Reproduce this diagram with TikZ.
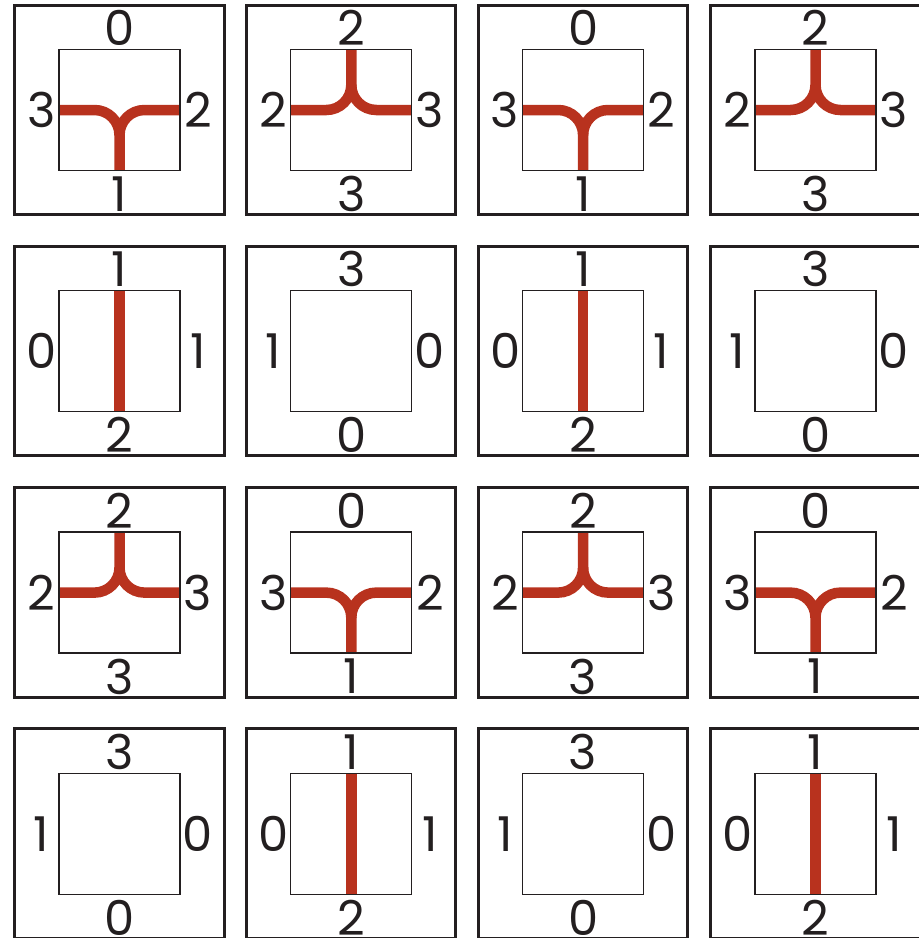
\documentclass[tikz,border=0pt]{standalone}
\usepackage{fontspec}
\setmainfont{Poppins}
\definecolor{ink}{HTML}{231F20}
\definecolor{pipe}{RGB}{184,50,30}
\tikzset{
  x=1pt,y=1pt,
  outerbox/.style={draw=ink,line width=3pt},
  innerbox/.style={draw=ink,line width=1.3pt},
  pipeline/.style={draw=pipe,line width=10.5pt,line cap=butt},
  lbl/.style={inner sep=0pt,text=ink,font=\fontsize{48}{48}\selectfont},
  pics/tile/.style n args={4}{code={
    \draw[outerbox] (0,0) rectangle (209.5,-209.5);
    \draw[innerbox] (44.5,-44.5) rectangle (165.5,-165.5);
    \node[lbl] (top) at (105,-23) {#1};
    \node[lbl] (left) at (27,-105) {#2};
    \node[lbl] (right) at (183.5,-105) {#3};
    \node[lbl] (bottom) at (105,-189) {#4};
  }},
  pics/pipedown/.style={code={
    \draw[pipeline] (44.5,-105) -- (80,-105) arc[start angle=90,end angle=0,radius=25] -- (105,-165.5);
    \draw[pipeline] (165.5,-105) -- (130,-105) arc[start angle=90,end angle=180,radius=25];
  }},
  pics/pipeup/.style={code={
    \draw[pipeline] (44.5,-105) -- (80,-105) arc[start angle=-90,end angle=0,radius=25] -- (105,-44.5);
    \draw[pipeline] (165.5,-105) -- (130,-105) arc[start angle=-90,end angle=-180,radius=25];
  }},
  pics/pipevert/.style={code={
    \draw[pipeline] (105,-44.5) -- (105,-165.5);
  }}
}
\begin{document}
\begin{tikzpicture}
\useasboundingbox (0,0) rectangle (919,-938);
\clip (0,0) rectangle (919,-938);
% row 1
\pic at (14.5,-5) {pipedown};
\pic (t11) at (14.5,-5) {tile={0}{3}{2}{1}};
\pic at (246.3,-5) {pipeup};
\pic (t12) at (246.3,-5) {tile={2}{2}{3}{3}};
\pic at (478.1,-5) {pipedown};
\pic (t13) at (478.1,-5) {tile={0}{3}{2}{1}};
\pic at (710.5,-5) {pipeup};
\pic (t14) at (710.5,-5) {tile={2}{2}{3}{3}};
% row 2
\pic at (14.5,-246.3) {pipevert};
\pic (t21) at (14.5,-246.3) {tile={1}{0}{1}{2}};
\pic (t22) at (246.3,-246.3) {tile={3}{1}{0}{0}};
\pic at (478.1,-246.3) {pipevert};
\pic (t23) at (478.1,-246.3) {tile={1}{0}{1}{2}};
\pic (t24) at (710.5,-246.3) {tile={3}{1}{0}{0}};
% row 3
\pic at (14.5,-487.6) {pipeup};
\pic (t31) at (14.5,-487.6) {tile={2}{2}{3}{3}};
\pic at (246.3,-487.6) {pipedown};
\pic (t32) at (246.3,-487.6) {tile={0}{3}{2}{1}};
\pic at (478.1,-487.6) {pipeup};
\pic (t33) at (478.1,-487.6) {tile={2}{2}{3}{3}};
\pic at (710.5,-487.6) {pipedown};
\pic (t34) at (710.5,-487.6) {tile={0}{3}{2}{1}};
% row 4
\pic (t41) at (14.5,-728.9) {tile={3}{1}{0}{0}};
\pic at (246.3,-728.9) {pipevert};
\pic (t42) at (246.3,-728.9) {tile={1}{0}{1}{2}};
\pic (t43) at (478.1,-728.9) {tile={3}{1}{0}{0}};
\pic at (710.5,-728.9) {pipevert};
\pic (t44) at (710.5,-728.9) {tile={1}{0}{1}{2}};
\end{tikzpicture}
\end{document}
